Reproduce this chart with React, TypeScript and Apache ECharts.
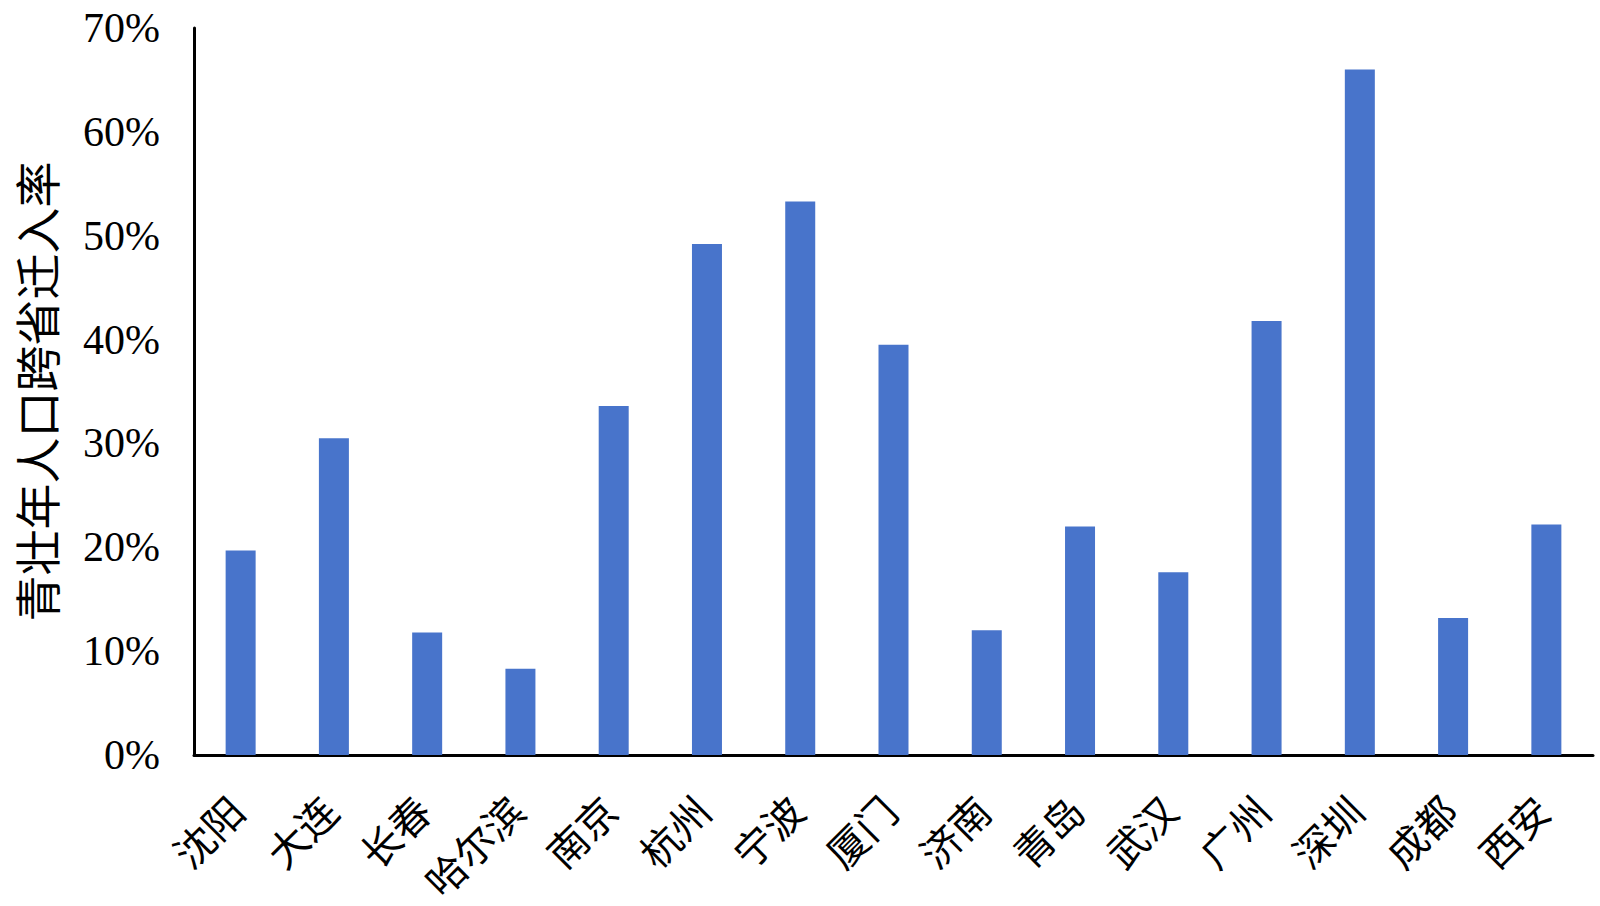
import React, { useEffect, useRef } from "react";
import * as echarts from "echarts";

const cities = ["沈阳", "大连", "长春", "哈尔滨", "南京", "杭州", "宁波", "厦门", "济南", "青岛", "武汉", "广州", "深圳", "成都", "西安"];
const rates = [19.7, 30.5, 11.8, 8.3, 33.6, 49.2, 53.3, 39.5, 12.0, 22.0, 17.6, 41.8, 66.0, 13.2, 22.2];
const yTicks = { min: 0, max: 70, interval: 10 };
const yName = "青壮年人口跨省迁入率";

export default function App() {
  const ref = useRef<HTMLDivElement>(null);
  useEffect(() => {
    if (!ref.current) return;
    const chart = echarts.init(ref.current, null, { renderer: "svg" });
    const font = "'Liberation Serif', 'Times New Roman', 'Noto Sans CJK SC', serif";
    chart.setOption({
      animation: false,
      backgroundColor: "#ffffff",
      grid: { left: 194, right: 7, top: 28, bottom: 151, containLabel: false, outerBoundsMode: "none" },
      xAxis: {
        type: "category",
        data: cities,
        axisLine: { show: true, lineStyle: { color: "#000", width: 3 } },
        axisTick: { show: false },
        axisLabel: {
          rotate: 45,
          interval: 0,
          margin: 48,
          padding: [0, 3, 0, 0],
          fontSize: 40,
          color: "#000",
          fontFamily: font,
        },
      },
      yAxis: {
        type: "value",
        min: yTicks.min,
        max: yTicks.max,
        interval: yTicks.interval,
        name: yName,
        nameLocation: "middle",
        nameGap: 132,
        nameTextStyle: { fontSize: 46, color: "#000", fontFamily: font },
        axisLine: { show: true, lineStyle: { color: "#000", width: 3 } },
        axisTick: { show: false },
        splitLine: { show: false },
        axisLabel: {
          formatter: "{value}%",
          fontSize: 42,
          margin: 34,
          color: "#000",
          fontFamily: font,
        },
      },
      series: [
        {
          type: "bar",
          data: rates,
          barWidth: 30,
          itemStyle: { color: "#4874CB" },
        },
      ],
    });
    return () => chart.dispose();
  }, []);
  return (
    <div
      ref={ref}
      style={{ position: "absolute", left: 0, top: 0, width: 1600, height: 906 }}
    />
  );
}
